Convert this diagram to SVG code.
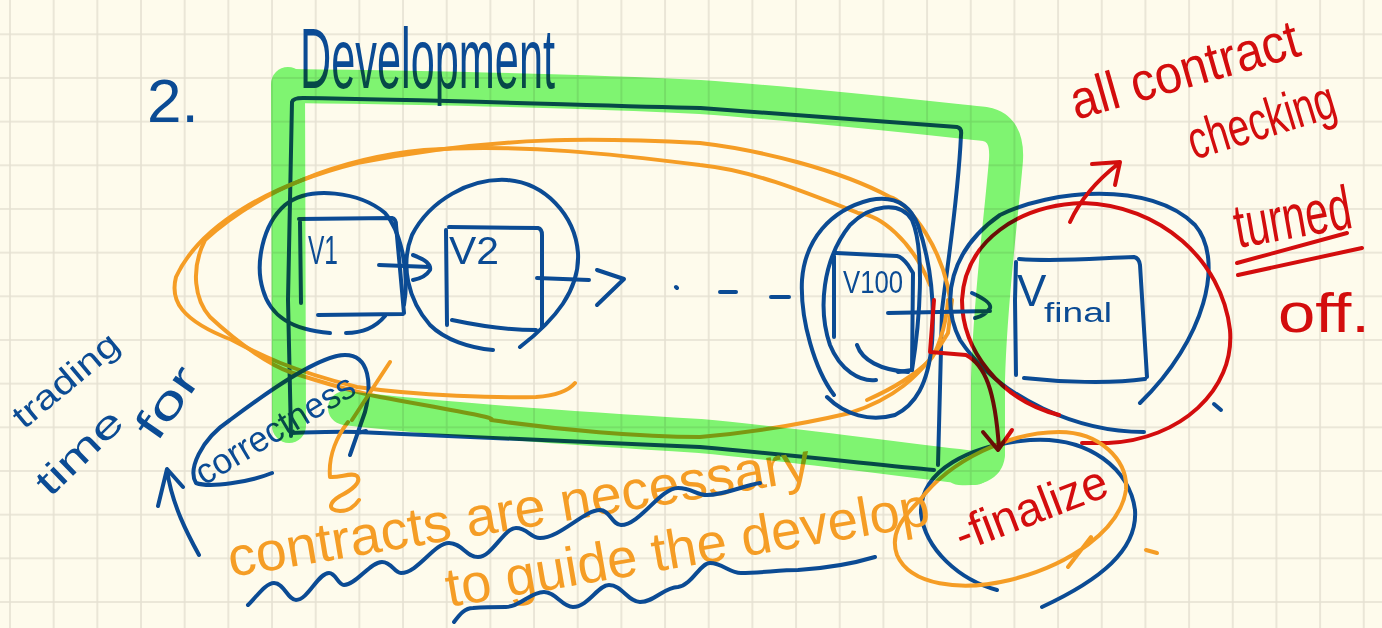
<svg xmlns="http://www.w3.org/2000/svg" width="1382" height="628" viewBox="0 0 1382 628">
<defs>
<pattern id="grid" x="9" y="33.3" width="43.67" height="43.67" patternUnits="userSpaceOnUse">
<path d="M1 0 V43.67 M0 1 H43.67" stroke="#e5e1d2" stroke-width="1.6" fill="none"/>
</pattern>
<style>
.b{fill:none;stroke:#0b4b94;stroke-width:4;stroke-linecap:round;stroke-linejoin:round}
.o{fill:none;stroke:#f59d25;stroke-width:4;stroke-linecap:round;stroke-linejoin:round}
.r{fill:none;stroke:#d30d0d;stroke-width:4;stroke-linecap:round;stroke-linejoin:round}
.g{fill:none;stroke:#80f87a;stroke-width:34;stroke-linecap:round;stroke-linejoin:round}
.hl{mix-blend-mode:multiply}
.tb{fill:#0b4b94;font-family:"Liberation Sans",Arial,sans-serif}
.to{fill:#f59d25;font-family:"Liberation Sans",Arial,sans-serif}
.tr{fill:#d30d0d;font-family:"Liberation Sans",Arial,sans-serif}
</style>
</defs>
<rect width="1382" height="628" fill="#fefbec"/>
<rect width="1382" height="628" fill="url(#grid)"/>

<g id="title">
<text class="tb" x="147" y="122" font-size="62">2.</text>
<text class="tb" x="300" y="88" font-size="86" textLength="255" lengthAdjust="spacingAndGlyphs">Development</text>
</g>

<g id="node-development-frame">
<path class="b" d="M291 436 L288 300 L292 102 M292 102 Q293 98 303 98 C450 100 600 106 700 108 C800 115 900 123 957 127 Q962 128 961 135 C958 200 948 260 942 310 L938 465 M292 433 C320 432 340 431 357 432 C500 438 600 442 700 447 C800 456 880 465 934 470"/>
</g>

<g id="orange-loops">
<path class="o" d="M952 320 C950 250 905 200 890 197 C840 170 760 150 700 143 C600 138 500 135 357 163 C270 185 200 225 176 277 C170 300 180 320 232 340 C260 355 290 370 357 387 C420 396 500 398 536 397 Q565 395 575 383"/>
<path class="o" d="M930 285 C912 240 880 215 858 213 C800 190 750 170 700 165 C620 155 520 143 424 150 C340 158 260 190 205 240 C190 270 195 300 210 317 C240 345 270 365 290 372 C330 385 360 393 380 397 C450 410 500 418 491 420 C560 430 640 437 700 437 C760 432 820 420 850 413 C890 400 920 380 948 333 L952 300"/>
<path class="o" d="M948 300 C946 330 935 355 930 360 C910 380 885 392 867 400"/>
</g>

<g id="node-v1">
<path class="b" d="M404 305 C410 270 400 230 385 213 C360 192 310 185 285 205 C262 225 255 265 263 290 C270 315 290 330 330 333 M346 333 C360 333 375 328 385 316"/>
<path class="b" d="M300 222 L301 303 M299 219 L392 218 Q396 219 396 225 L404 313 M318 315 L403 314"/>
<text class="tb" x="308" y="264" font-size="40" textLength="30" lengthAdjust="spacingAndGlyphs">V1</text>
</g>

<g id="node-v2">
<path class="b" d="M520 347 C555 320 580 290 578 253 C575 215 545 183 507 180 C470 178 430 200 412 235 C400 265 408 300 430 325 C445 340 470 348 493 350"/>
<path class="b" d="M446 230 L447 325 M449 227 L538 228 Q542 229 542 235 L542 327 M452 320 C480 326 510 330 536 330"/>
<text class="tb" x="449" y="264" font-size="38" textLength="50" lengthAdjust="spacingAndGlyphs">V2</text>
</g>

<g id="node-v100">
<path class="b" d="M834 395 C815 370 800 320 802 280 C805 240 830 210 870 200 C895 195 910 205 918 225 C930 260 935 300 932 343 C928 385 915 405 895 415 C870 422 845 415 827 397"/>
<path class="b" d="M876 380 C860 382 840 370 830 345 C818 310 822 260 850 225 C870 205 900 200 912 220 C925 250 920 320 912 370 L898 372"/>
<path class="b" d="M834 256 L834 337 M836 253 L897 256 Q902 257 908 265 L913 273 L912 370 M857 345 C862 360 880 370 908 372"/>
<text class="tb" x="843" y="293" font-size="32" textLength="60" lengthAdjust="spacingAndGlyphs">V100</text>
</g>

<g id="node-vfinal">
<path class="b" d="M1144 432 C1080 432 1000 400 960 340 C940 300 950 250 1000 215 C1050 190 1150 180 1195 225 C1225 260 1205 340 1140 403"/>
<path class="b" d="M1214 404 L1221 410"/>
<path class="r" d="M1059 415 C1000 400 962 350 962 300 C965 240 1020 205 1083 203 C1160 205 1222 260 1230 330 C1235 390 1180 440 1108 443 L1082 443"/>
<path class="b" d="M1016 262 L1015 300 L1016 375 M1019 259 C1060 262 1100 258 1134 257 Q1139 258 1140 265 L1147 377 M1024 378 C1060 382 1110 384 1145 379"/>
<text class="tb" x="1017" y="306" font-size="44">V</text>
<text class="tb" x="1044" y="322" font-size="27" textLength="68" lengthAdjust="spacingAndGlyphs">final</text>
</g>

<g id="node-finalize">
<path class="b" d="M997 590 C960 580 925 550 921 513 C920 470 970 445 1030 440 C1090 436 1130 470 1135 510 C1138 550 1100 580 1042 607"/>
<path class="o" d="M920 500 C950 460 1010 432 1059 432 C1100 432 1128 460 1126 490 C1120 530 1070 565 1010 580 C960 592 910 585 897 555 C890 535 900 520 920 500 M1068 567 L1091 537"/>
<text class="tr" x="962" y="552" font-size="48" textLength="160" lengthAdjust="spacingAndGlyphs" transform="rotate(-21 962 552)">-finalize</text>
<path class="o" d="M1146 550 L1157 553"/>
</g>

<g id="node-correctness">
<path class="b" d="M272 473 C250 482 210 488 196 483 C188 470 200 440 230 420 C270 390 320 355 345 355 C370 355 372 385 365 412 L350 455 M357 433 L366 431"/>
<text class="tb" x="204" y="486" font-size="36" textLength="180" lengthAdjust="spacingAndGlyphs" transform="rotate(-31 204 486)">correctness</text>
</g>

<g id="connectors">
<path class="b" d="M379 265 L430 267 M413 255 Q432 262 430 270 Q425 278 413 280"/>
<path class="b" d="M537 278 L589 280 M597 270 L624 279 L597 305"/>
<path class="b" d="M676 287 L677 288 M720 292 L736 292 M771 297 L789 297"/>
<path class="b" d="M888 313 L990 311 M972 293 Q992 302 990 308 Q985 316 975 318"/>
<path class="r" d="M1070 222 C1080 200 1095 182 1118 164 M1092 164 L1120 162 L1115 185"/>
<path class="r" d="M934 300 L930 352 L966 355 C985 365 995 390 999 448 M983 432 L998 450 L1012 430"/>
<path class="b" d="M199 555 C188 535 172 505 167 470 M158 506 L167 469 L183 487"/>
<path class="o" d="M390 362 L352 420 M348 422 C338 435 328 455 330 477 C340 478 352 472 357 476 C362 482 352 490 340 496 C330 502 326 510 340 511 C348 511 355 506 359 500"/>
</g>

<g id="note-trading">
<text class="tb" x="24" y="430" font-size="34" textLength="128" lengthAdjust="spacingAndGlyphs" transform="rotate(-40 24 430)">trading</text>
<text class="tb" x="50" y="498" font-size="38" textLength="106" lengthAdjust="spacingAndGlyphs" transform="rotate(-44 50 498)">time</text>
<text class="tb" x="157" y="443" font-size="44" textLength="78" lengthAdjust="spacingAndGlyphs" transform="rotate(-55 157 443)">for</text>
</g>

<g id="note-contracts">
<text class="to" x="231" y="577" font-size="55" textLength="590" lengthAdjust="spacingAndGlyphs" transform="rotate(-9.5 231 577)">contracts are necessary</text>
<text class="to" x="449" y="607" font-size="55" textLength="490" lengthAdjust="spacingAndGlyphs" transform="rotate(-9.7 449 607)">to guide the develop</text>
<path class="b" d="M248 605 C258 595 266 583 274 583 C284 583 288 600 296 600 C308 600 318 573 329 573 C336 573 338 585 344 585 C356 585 370 562 382 562 C392 562 394 573 401 573 C418 573 434 543 449 543 C462 543 466 557 478 557 C492 557 504 528 516 528 C528 528 530 538 540 538 C560 538 584 510 600 510 C610 510 612 525 621 525 C640 525 660 488 678 488 C692 488 696 495 707 495 C725 495 745 485 760 483"/>
<path class="b" d="M454 622 C460 614 465 608 473 608 C486 607 494 607 506 607 C520 607 530 592 544 592 C556 592 562 607 573 607 C588 607 598 585 609 585 C622 585 628 602 640 602 C655 602 664 587 678 587 C692 585 700 563 710 563 C722 563 730 573 741 573 C760 573 780 570 798 570 C830 568 855 563 875 557"/>
</g>

<g id="note-checking">
<text class="tr" x="1076" y="120" font-size="54" textLength="236" lengthAdjust="spacingAndGlyphs" transform="rotate(-16 1076 120)">all contract</text>
<text class="tr" x="1194" y="160" font-size="54" textLength="152" lengthAdjust="spacingAndGlyphs" transform="rotate(-17 1194 160)">checking</text>
<text class="tr" x="1238" y="248" font-size="62" textLength="118" lengthAdjust="spacingAndGlyphs" transform="rotate(-10 1238 248)">turned</text>
<path class="r" d="M1237 263 L1347 233 M1238 275 L1362 248"/>
<text class="tr" x="1278" y="332" font-size="56" textLength="92" lengthAdjust="spacingAndGlyphs">off.</text>
</g>

<g id="highlight" class="hl">
<path class="g" d="M288 84 L289 426"/>
<path class="g" d="M292 86 C450 88 600 92 700 97 C800 104 900 115 985 124 Q1008 128 1006 160 C1000 230 990 300 988 380 L988 455 Q986 470 960 468"/>
<path class="g" d="M345 408 C450 420 600 430 700 436 C800 445 900 460 975 468"/>
</g>
</svg>
